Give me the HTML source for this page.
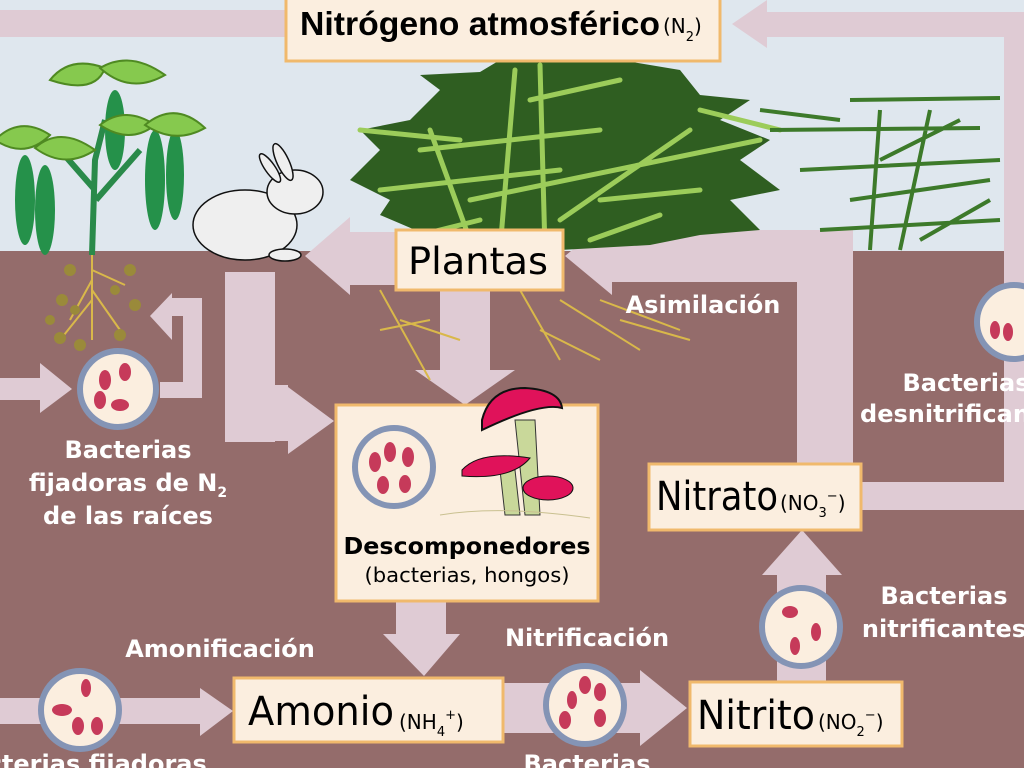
<!DOCTYPE html>
<html><head><meta charset="utf-8"><style>
html,body{margin:0;padding:0;width:1024px;height:768px;overflow:hidden;background:#946c6b}
svg{display:block}
.w{font-family:"DejaVu Sans","Liberation Sans",sans-serif;font-weight:bold;fill:#fff;font-size:24px;text-anchor:middle}
.b{font-family:"DejaVu Sans","Liberation Sans",sans-serif;fill:#000}
</style></head><body>
<svg width="1024" height="768" viewBox="0 0 1024 768" xmlns="http://www.w3.org/2000/svg">
<rect width="1024" height="252" fill="#dfe7ee"/>
<rect y="251" width="1024" height="517" fill="#946c6b"/>
<g fill="#dfcbd4">
<rect x="0" y="10" width="290" height="27"/>
<polygon points="732,24 767,0 767,12 1004,12 1004,37 767,37 767,48"/>
<rect x="1004" y="12" width="30" height="498"/>
<rect x="860" y="482" width="170" height="28"/>
<polygon points="305,256 350,217 350,232 400,232 400,285 350,285 350,295"/>
<rect x="797" y="230" width="56" height="235"/>
<polygon points="565,256 612,217 612,230 853,230 853,282 612,282 612,295"/>
<polygon points="440,290 490,290 490,370 515,370 465,405 415,370 440,370"/>
<rect x="225" y="272" width="50" height="170"/>
<polygon points="225,385 288,385 288,387 334,421 288,454 288,441 225,441"/>
<polygon points="183,316 183,382 160,382 160,398 202,398 202,298 172,298 172,293 150,316 172,340 172,316"/>
<polygon points="0,378 40,378 40,363 72,389 40,413 40,400 0,400"/>
<polygon points="396,601 446,601 446,634 460,634 424,676 383,634 396,634"/>
<polygon points="0,698 200,698 200,688 233,711 200,736 200,724 0,724"/>
<polygon points="503,683 640,683 640,670 687,708 640,746 640,733 503,733"/>
<polygon points="777,682 777,575 762,575 802,530 842,575 826,575 826,682"/>
</g>
<g fill="#2f5e21">
<path d="M350,180 L380,150 L360,130 L410,120 L440,90 L420,75 L480,72 L500,60 L560,62 L620,60 L680,70 L700,95 L750,100 L720,120 L770,140 L740,160 L780,190 L730,200 L760,230 L700,235 L650,245 L560,250 L470,250 L420,232 L380,215 L390,200Z"/>
</g>
<g stroke="#9ccc5a" stroke-width="5" fill="none" stroke-linecap="round">
<path d="M500,250 L515,70 M545,250 L540,65 M470,240 L430,130 M560,220 L690,130 M420,150 L600,130 M380,190 L560,170 M470,200 L760,140 M600,200 L700,190 M360,130 L460,140 M700,110 L780,130 M530,100 L620,80 M480,220 L400,240 M590,240 L660,215"/>
</g>
<g stroke="#3d7a2a" stroke-width="4" fill="none">
<path d="M870,250 L880,110 M900,250 L930,110 M850,200 L990,180 M770,130 L980,128 M800,170 L1000,160 M850,100 L1000,98 M820,230 L1000,220 M880,160 L960,120 M760,110 L840,120 M920,240 L990,200"/>
</g>
<g>
<path d="M92,255 L95,160 L105,120 M95,190 L60,150 M96,200 L140,150" stroke="#2a8a4a" stroke-width="6" fill="none"/>
<g fill="#25914a">
<ellipse cx="25" cy="200" rx="10" ry="45"/><ellipse cx="45" cy="210" rx="10" ry="45"/>
<ellipse cx="155" cy="180" rx="10" ry="50"/><ellipse cx="175" cy="175" rx="9" ry="45"/>
<ellipse cx="115" cy="130" rx="10" ry="40"/>
</g>
<g fill="#86c94e" stroke="#4f8a22" stroke-width="2">
<path d="M50,80 Q70,55 105,68 Q95,95 50,80Z"/><path d="M100,68 Q130,50 165,75 Q130,95 100,68Z"/>
<path d="M-5,140 Q20,115 50,135 Q25,160 -5,140Z"/><path d="M35,148 Q60,125 95,150 Q65,170 35,148Z"/>
<path d="M100,125 Q125,105 155,125 Q130,145 100,125Z"/><path d="M145,125 Q175,100 205,128 Q175,145 145,125Z"/>
</g>
</g>
<g stroke="#d9b84a" stroke-width="2" fill="none">
<path d="M92,255 L92,340 M92,280 L70,320 M92,290 L120,330 M92,300 L60,340 M92,270 L125,285"/>
<path d="M380,290 L430,380 M400,320 L460,340 M520,290 L560,360 M560,300 L640,350 M600,300 L680,330 M380,330 L430,320 M540,330 L600,360 M620,320 L690,340"/>
</g>
<g fill="#9a8a3a">
<circle cx="70" cy="270" r="6"/><circle cx="130" cy="270" r="6"/><circle cx="62" cy="300" r="6"/><circle cx="135" cy="305" r="6"/><circle cx="60" cy="338" r="6"/><circle cx="80" cy="345" r="6"/><circle cx="120" cy="335" r="6"/><circle cx="75" cy="310" r="5"/><circle cx="115" cy="290" r="5"/><circle cx="50" cy="320" r="5"/>
</g>
<g fill="#efefef" stroke="#111" stroke-width="1.5">
<ellipse cx="245" cy="225" rx="52" ry="35"/>
<ellipse cx="295" cy="192" rx="28" ry="22"/>
<ellipse cx="283" cy="162" rx="6" ry="20" transform="rotate(-25 283 162)"/>
<ellipse cx="270" cy="168" rx="5" ry="17" transform="rotate(-35 270 168)"/>
<ellipse cx="285" cy="255" rx="16" ry="6"/>
</g>
<g fill="#fbeedf" stroke="#f0b96c" stroke-width="3">
<rect x="286" y="-5" width="434" height="66"/>
<rect x="396" y="230" width="167" height="60"/>
<rect x="336" y="405" width="262" height="196"/>
<rect x="234" y="678" width="269" height="64"/>
<rect x="690" y="682" width="212" height="64"/>
<rect x="649" y="464" width="212" height="66"/>
</g>
<g>
<path d="M515,420 L525,515 L540,515 L535,420Z" fill="#c9d89a" stroke="#333"/>
<path d="M500,470 L505,515 L520,515 L515,470Z" fill="#c9d89a" stroke="#333"/>
<path d="M482,420 Q490,388 525,388 Q560,390 562,408 Q540,402 482,430Z" fill="#e0125a" stroke="#111" stroke-width="2"/>
<path d="M462,470 Q480,450 530,458 Q512,480 462,476Z" fill="#e0125a" stroke="#111"/>
<ellipse cx="548" cy="488" rx="25" ry="12" fill="#e0125a" stroke="#111"/>
<path d="M440,515 Q500,505 590,518" stroke="#c9c090" fill="none"/>
</g>
<g fill="#fbeedf" stroke="#8494b5" stroke-width="6">
<circle cx="118" cy="389" r="38"/><circle cx="394" cy="467" r="39"/>
<circle cx="80" cy="710" r="39"/><circle cx="585" cy="705" r="39"/>
<circle cx="801" cy="627" r="39"/><circle cx="1014" cy="322" r="37"/>
</g>
<g fill="#c63a5a">
<ellipse cx="105" cy="380" rx="6" ry="10"/><ellipse cx="125" cy="372" rx="6" ry="9"/><ellipse cx="120" cy="405" rx="9" ry="6"/><ellipse cx="100" cy="400" rx="6" ry="9"/>
<ellipse cx="375" cy="462" rx="6" ry="10"/><ellipse cx="390" cy="452" rx="6" ry="10"/><ellipse cx="408" cy="457" rx="6" ry="10"/><ellipse cx="383" cy="485" rx="6" ry="9"/><ellipse cx="405" cy="484" rx="6" ry="9"/>
<ellipse cx="86" cy="688" rx="5" ry="9"/><ellipse cx="62" cy="710" rx="10" ry="6"/><ellipse cx="78" cy="726" rx="6" ry="9"/><ellipse cx="97" cy="726" rx="6" ry="9"/>
<ellipse cx="585" cy="685" rx="6" ry="9"/><ellipse cx="600" cy="692" rx="6" ry="9"/><ellipse cx="572" cy="700" rx="5" ry="9"/><ellipse cx="565" cy="720" rx="6" ry="9"/><ellipse cx="600" cy="718" rx="6" ry="9"/>
<ellipse cx="790" cy="612" rx="8" ry="6"/><ellipse cx="816" cy="632" rx="5" ry="9"/><ellipse cx="795" cy="646" rx="5" ry="9"/>
<ellipse cx="995" cy="330" rx="5" ry="9"/><ellipse cx="1008" cy="332" rx="5" ry="9"/>
</g>
<text x="300" y="35" class="b" style="font-family:'Liberation Sans Narrow','Liberation Sans',sans-serif;font-weight:bold;font-size:33px" textLength="360" lengthAdjust="spacingAndGlyphs">Nitrógeno atmosférico</text>
<text x="663" y="33" class="b" style="font-size:20px">(N<tspan font-size="13" dy="8">2</tspan><tspan dy="-8">)</tspan></text>
<text x="408" y="274" class="b" style="font-size:37px" textLength="140" lengthAdjust="spacingAndGlyphs">Plantas</text>
<text x="467" y="554" class="b" text-anchor="middle" style="font-size:23px;font-weight:bold" textLength="247" lengthAdjust="spacingAndGlyphs">Descomponedores</text>
<text x="467" y="582" class="b" text-anchor="middle" style="font-size:20px" textLength="205" lengthAdjust="spacingAndGlyphs">(bacterias, hongos)</text>
<text x="248" y="725" class="b" style="font-size:40px" textLength="146" lengthAdjust="spacingAndGlyphs">Amonio</text>
<text x="399" y="729" class="b" style="font-size:20px">(NH<tspan font-size="13" dy="7">4</tspan><tspan font-size="13" dy="-17">+</tspan><tspan dy="10">)</tspan></text>
<text x="697" y="729" class="b" style="font-size:40px" textLength="118" lengthAdjust="spacingAndGlyphs">Nitrito</text>
<text x="818" y="729" class="b" style="font-size:20px">(NO<tspan font-size="13" dy="7">2</tspan><tspan font-size="13" dy="-17">−</tspan><tspan dy="10">)</tspan></text>
<text x="656" y="510" class="b" style="font-size:40px" textLength="122" lengthAdjust="spacingAndGlyphs">Nitrato</text>
<text x="780" y="510" class="b" style="font-size:20px">(NO<tspan font-size="13" dy="7">3</tspan><tspan font-size="13" dy="-17">−</tspan><tspan dy="10">)</tspan></text>
<text x="703" y="313" class="w">Asimilación</text>
<text x="128" y="458" class="w">Bacterias</text>
<text x="128" y="491" class="w">fijadoras de N<tspan font-size="14" dy="6">2</tspan></text>
<text x="128" y="524" class="w">de las raíces</text>
<text x="220" y="657" class="w">Amonificación</text>
<text x="80" y="772" class="w">Bacterias fijadoras</text>
<text x="587" y="646" class="w">Nitrificación</text>
<text x="587" y="772" class="w">Bacterias</text>
<text x="944" y="604" class="w">Bacterias</text>
<text x="944" y="637" class="w">nitrificantes</text>
<text x="966" y="391" class="w">Bacterias</text>
<text x="966" y="422" class="w">desnitrificantes</text>
</svg>
</body></html>
